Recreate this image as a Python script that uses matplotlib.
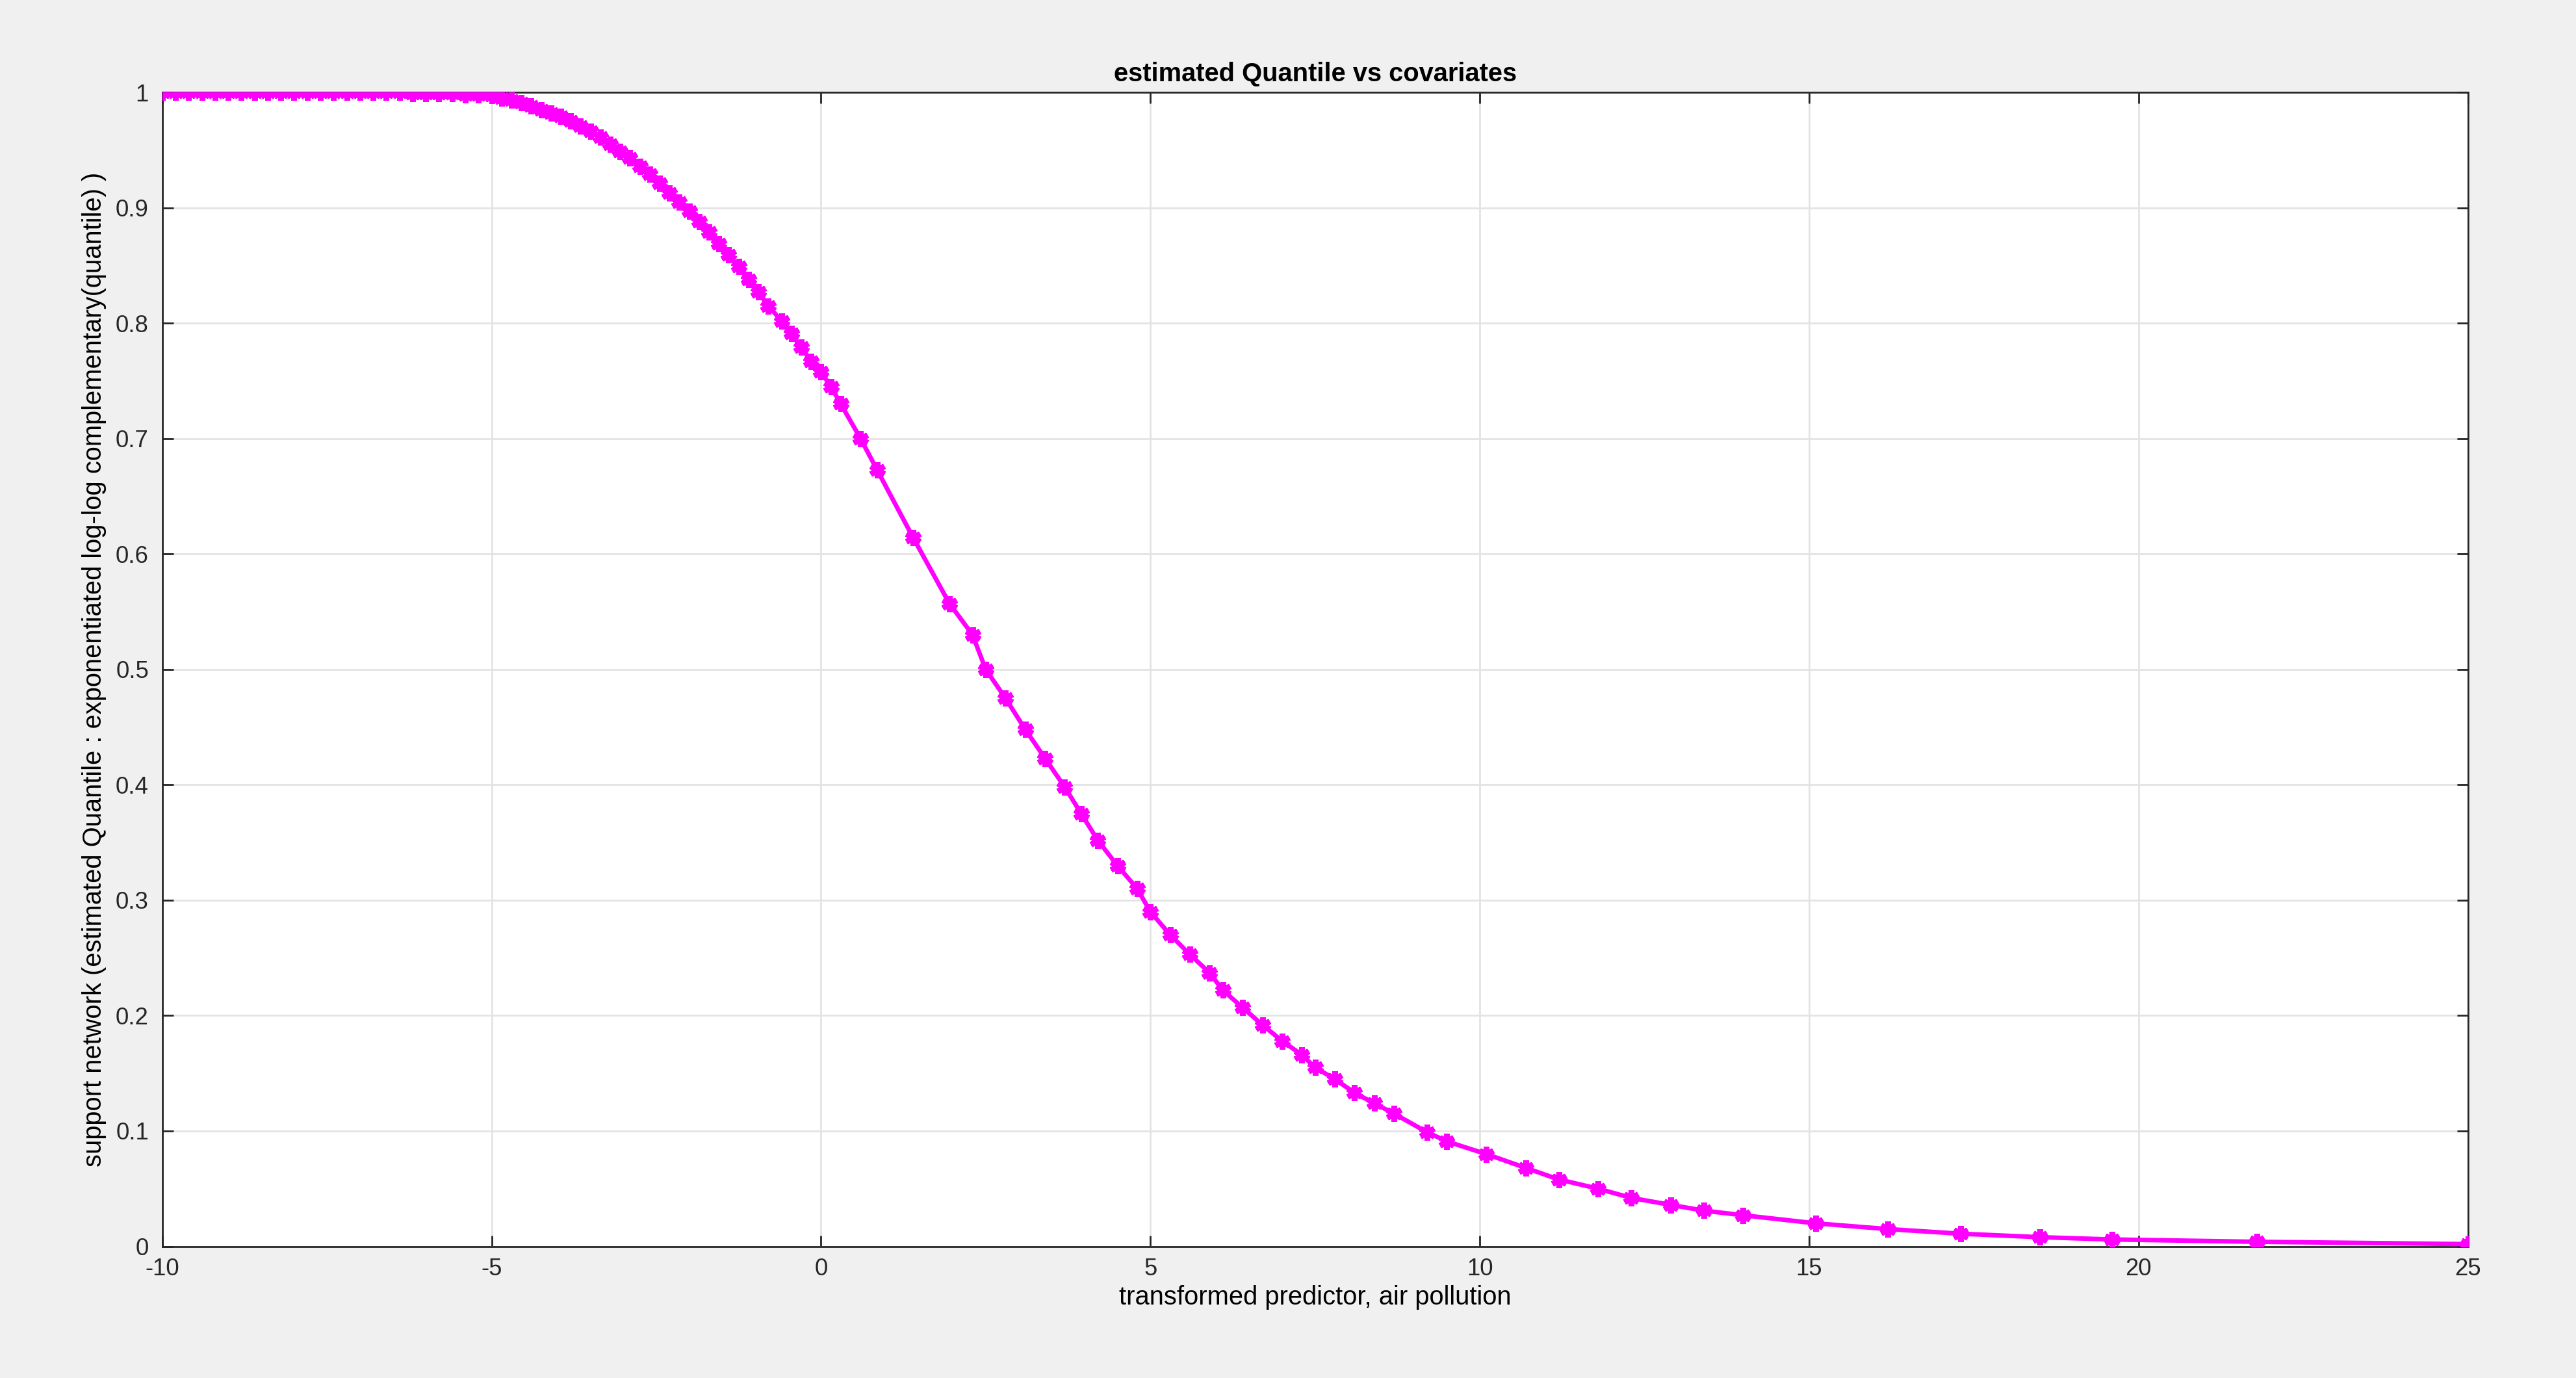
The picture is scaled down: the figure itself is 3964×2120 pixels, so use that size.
import matplotlib
matplotlib.use("Agg")
import matplotlib.pyplot as plt
import numpy as np

# values
x_vals = [-10.0, -9.8, -9.6, -9.4, -9.2, -9.0, -8.8, -8.6, -8.4, -8.2, -8.0,
          -7.8, -7.6, -7.4, -7.2, -7.0, -6.8, -6.6, -6.4, -6.2, -6.0, -5.8,
          -5.6, -5.4, -5.2, -5.0, -4.85, -4.7, -4.55, -4.4, -4.25, -4.1, -3.95,
          -3.8, -3.65, -3.5, -3.35, -3.2, -3.05, -2.9, -2.75, -2.6, -2.45, -2.3,
          -2.15, -2.0, -1.85, -1.7, -1.55, -1.4, -1.25, -1.1, -0.95, -0.8,
          -0.6, -0.45, -0.3, -0.15, 0.0, 0.15, 0.3, 0.6, 0.85, 1.4, 1.95, 2.3,
          2.5, 2.8, 3.1, 3.4, 3.7, 3.95, 4.2, 4.5, 4.8, 5.0, 5.3, 5.6, 5.9,
          6.1, 6.4, 6.7, 7.0, 7.3, 7.5, 7.8, 8.1, 8.4, 8.7, 9.2, 9.5, 10.1,
          10.7, 11.2, 11.8, 12.3, 12.9, 13.4, 14.0, 15.1, 16.2, 17.3, 18.5,
          19.6, 21.8, 25.0]
y_vals = [1.0, 1.0, 1.0, 1.0, 1.0, 1.0, 1.0, 1.0, 1.0, 1.0, 1.0,
          1.0, 1.0, 1.0, 1.0, 1.0, 1.0, 1.0, 1.0, 0.999, 0.999, 0.999,
          0.999, 0.998, 0.998, 0.997, 0.995, 0.993, 0.991, 0.988, 0.985, 0.982, 0.979,
          0.975, 0.971, 0.966, 0.961, 0.955, 0.949, 0.943, 0.936, 0.929, 0.921, 0.913,
          0.905, 0.897, 0.888, 0.879, 0.869, 0.859, 0.849, 0.838, 0.827, 0.815,
          0.802, 0.791, 0.779, 0.767, 0.758, 0.745, 0.73, 0.70, 0.673, 0.614, 0.557, 0.53,
          0.50, 0.475, 0.448, 0.423, 0.398, 0.375, 0.352, 0.33, 0.31, 0.29, 0.27, 0.253, 0.237,
          0.222, 0.207, 0.192, 0.178, 0.166, 0.155, 0.145, 0.133, 0.124, 0.115, 0.099, 0.091, 0.080,
          0.068, 0.058, 0.050, 0.042, 0.036, 0.031, 0.027, 0.020, 0.015, 0.011, 0.008,
          0.006, 0.004, 0.002]

x_ticks = [-10, -5, 0, 5, 10, 15, 20, 25]
y_ticks = [0, 0.1, 0.2, 0.3, 0.4, 0.5, 0.6, 0.7, 0.8, 0.9, 1]

plt.rcParams['font.family'] = ['Liberation Sans', 'DejaVu Sans']
plt.rcParams['axes.unicode_minus'] = False

fig = plt.figure(figsize=(15.856, 8.48), dpi=250, facecolor='#f0f0f0')
ax = fig.add_axes([0.063, 0.0955, 0.895, 0.8375])
ax.set_facecolor('white')

ax.plot(x_vals, y_vals, color='#ff00ff', linewidth=2,
        marker=(6, 2, 0), markersize=7, markeredgewidth=2.5,
        markeredgecolor='#ff00ff', zorder=3)

ax.set_xlim(-10, 25)
ax.set_ylim(0, 1)
ax.set_xticks(x_ticks)
ax.set_yticks(y_ticks)
ax.set_yticklabels(['0', '0.1', '0.2', '0.3', '0.4', '0.5', '0.6', '0.7', '0.8', '0.9', '1'])
ax.grid(True, color='#e3e3e3', linewidth=0.8)
ax.tick_params(direction='in', top=True, right=True, labelsize=10.5,
               length=5, width=0.8, colors='#262626')
ax.tick_params(axis='x', pad=5)
ax.tick_params(axis='y', pad=6)
for s in ax.spines.values():
    s.set_color('#262626')
    s.set_linewidth(0.8)

ax.set_title('estimated Quantile vs covariates', fontsize=11.5, fontweight='bold', pad=5)
ax.set_xlabel('transformed predictor, air pollution', fontsize=11.5, labelpad=2)
ax.set_ylabel('support network (estimated Quantile : exponentiated log-log complementary(quantile) )',
              fontsize=11.5, labelpad=4)

fig.savefig('out.png', dpi=250, facecolor=fig.get_facecolor())
